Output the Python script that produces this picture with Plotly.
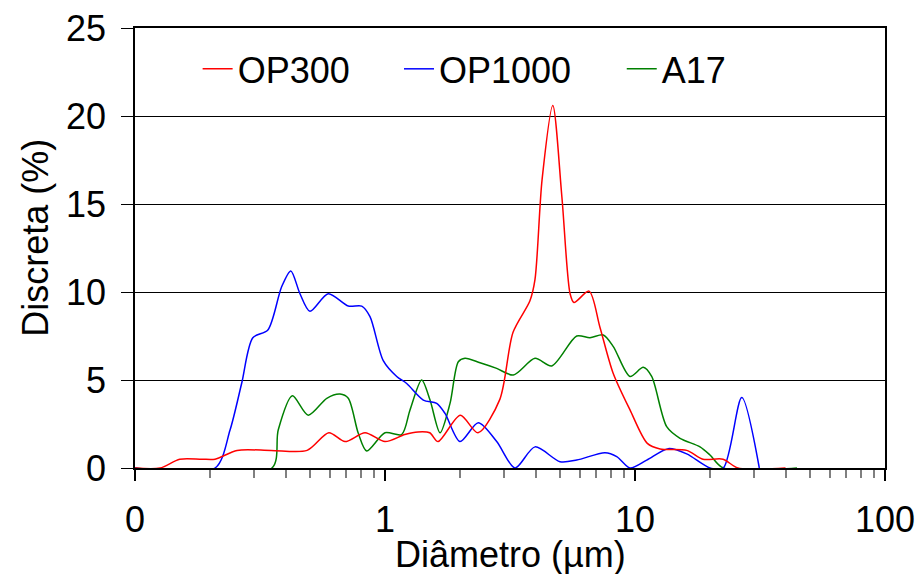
import plotly.graph_objects as go

# ---- data (diameter in µm, discrete %) ----
op300_x = [0.1, 0.126, 0.151, 0.185, 0.209, 0.256, 0.35, 0.488, 0.596, 0.692, 0.832, 1.0, 1.20,
           1.355, 1.51, 1.63, 2.0, 2.355, 2.88, 3.25, 3.80, 3.98, 4.25, 4.69, 5.10, 5.50, 5.70,
           6.55, 7.24, 8.17, 9.55, 11.2, 12.6, 16.1, 18.7, 22.5, 25.8, 40.0]
op300_y = [0, 0, 0.5, 0.5, 0.5, 1.0, 1.0, 1.0, 2.0, 1.5, 2.0, 1.5, 1.9,
           2.05, 2.0, 1.5, 3.0, 2.0, 3.9, 7.7, 9.5, 10.7, 16.4, 20.6, 15.4, 9.9, 9.4,
           10.05, 8.0, 5.4, 3.3, 1.4, 1.08, 1.0, 0.5, 0.5, 0, 0]

op1000_x = [0.1, 0.209, 0.240, 0.267, 0.296, 0.340, 0.386, 0.420, 0.457, 0.501, 0.593, 0.713,
            0.807, 0.871, 0.984, 1.114, 1.221, 1.423, 1.610, 1.738, 1.995, 2.362, 2.798, 3.311,
            3.981, 5.012, 5.846, 7.586, 8.452, 9.550, 11.14, 13.59, 16.10, 19.95, 22.55, 26.73, 31.42]
op1000_y = [0, 0, 2.16, 4.8, 7.4, 7.84, 10.3, 11.2, 9.9, 8.9, 9.9, 9.2,
            9.2, 8.6, 6.1, 5.2, 4.8, 3.86, 3.67, 3.1, 1.5, 2.57, 1.5, 0,
            1.2, 0.36, 0.45, 0.87, 0.65, 0, 0.45, 1.1, 0.8, 0, 0, 4.0, 0]

a17_x = [0.1, 0.353, 0.374, 0.426, 0.493, 0.585, 0.661, 0.713, 0.782, 0.845, 1.0, 1.166, 1.259,
         1.402, 1.514, 1.660, 1.820, 1.965, 2.089, 2.399, 2.798, 3.261, 3.981, 4.643, 5.846,
         6.607, 7.468, 8.191, 9.550, 10.79, 11.66, 13.39, 15.14, 18.20, 19.95, 22.55, 44.46]
a17_y = [0, 0, 2.16, 4.1, 3.0, 3.96, 4.2, 3.96, 1.97, 0.97, 2.0, 1.9, 3.3,
         5.0, 3.86, 2.0, 3.67, 6.04, 6.23, 5.98, 5.66, 5.28, 6.23, 5.8, 7.5,
         7.4, 7.56, 6.9, 5.2, 5.72, 5.2, 2.35, 1.69, 1.2, 0.74, 0, 0]

x_tickvals = [0.1, 1, 10, 100]
x_ticktext = ["0", "1", "10", "100"]
x_minor = [0.2, 0.3, 0.4, 0.5, 0.6, 0.7, 0.8, 0.9,
           2, 3, 4, 5, 6, 7, 8, 9,
           20, 30, 40, 50, 60, 70, 80, 90]
y_tickvals = [0, 5, 10, 15, 20, 25]

FONT = "Arial, Liberation Sans, sans-serif"

fig = go.Figure()
fig.add_trace(go.Scatter(x=a17_x, y=a17_y, name="A17", mode="lines",
                         line=dict(color="#008000", width=1.5, shape="spline", smoothing=0.8),
                         legend="legend3"))
fig.add_trace(go.Scatter(x=op1000_x, y=op1000_y, name="OP1000", mode="lines",
                         line=dict(color="#0000FF", width=1.5, shape="spline", smoothing=0.8),
                         legend="legend2"))
fig.add_trace(go.Scatter(x=op300_x, y=op300_y, name="OP300", mode="lines",
                         line=dict(color="#FF0000", width=1.5, shape="spline", smoothing=0.8),
                         legend="legend"))

leg_common = dict(orientation="h", yanchor="middle", xanchor="left", y=0.907,
                  font=dict(family=FONT, size=36, color="black"),
                  bgcolor="rgba(0,0,0,0)", borderwidth=0)
fig.update_layout(
    width=918, height=574,
    margin=dict(l=135, r=33, t=28, b=106),
    paper_bgcolor="white", plot_bgcolor="white",
    font=dict(family=FONT, size=36, color="black"),
    showlegend=True,
    legend=dict(x=0.0835, **leg_common),
    legend2=dict(x=0.352, **leg_common),
    legend3=dict(x=0.649, **leg_common),
    xaxis=dict(type="log", range=[-1, 2], tickmode="array", tickvals=x_tickvals,
               ticktext=x_ticktext, ticks="outside", ticklen=11, tickwidth=1.5,
               tickcolor="black", showline=True, linecolor="black", linewidth=1.5,
               mirror=True, showgrid=False, zeroline=False, automargin=False,
               tickfont=dict(family=FONT, size=36), ticklabelstandoff=8,
               minor=dict(tickmode="array", tickvals=x_minor, ticks="outside",
                          ticklen=8, tickwidth=1.5, tickcolor="#808080", showgrid=False)),
    yaxis=dict(range=[0, 25], tickmode="array", tickvals=y_tickvals, ticks="outside",
               ticklen=12, tickwidth=1, tickcolor="black", showline=True,
               linecolor="black", linewidth=1.5, mirror=True, showgrid=True,
               gridcolor="black", gridwidth=1, zeroline=False, automargin=False,
               tickfont=dict(family=FONT, size=36), ticklabelstandoff=8),
    annotations=[
        dict(text="Discreta (%)", xref="paper", yref="paper",
             x=-0.133, y=0.524, xanchor="center", yanchor="middle",
             textangle=-90, showarrow=False,
             font=dict(family=FONT, size=36, color="black")),
        dict(text="Diâmetro (µm)", xref="paper", yref="paper",
             x=0.5, y=-0.197, xanchor="center", yanchor="middle",
             showarrow=False,
             font=dict(family=FONT, size=36, color="black")),
    ],
)

fig.write_html("out.html",
               config={"displayModeBar": False},
               post_script="document.body.style.margin='0';document.body.style.overflow='hidden';")
